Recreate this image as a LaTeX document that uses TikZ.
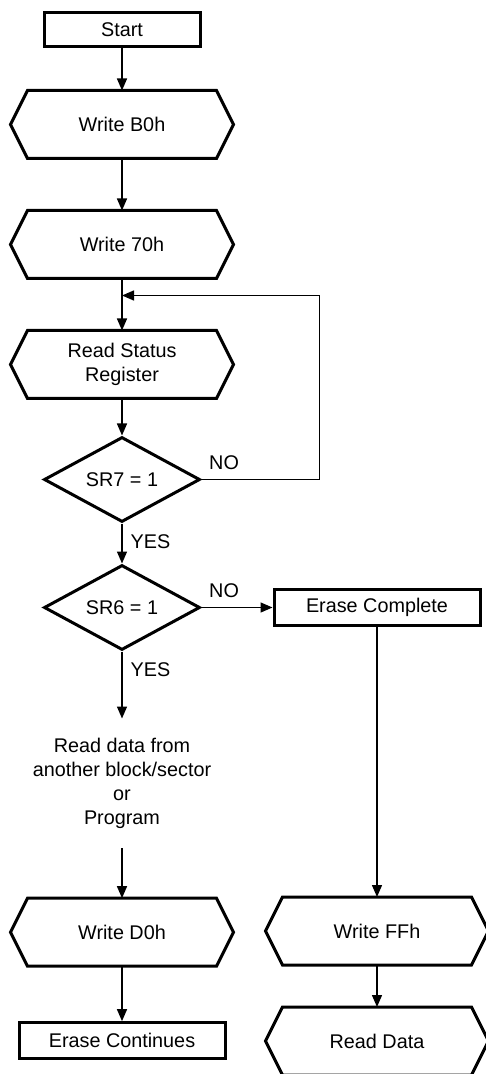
\documentclass[tikz,border=0pt]{standalone}
\usepackage{fontspec}
\setmainfont{Liberation Sans}
\usetikzlibrary{shapes.geometric, arrows.meta, positioning}

\begin{document}
\begin{tikzpicture}[
  node distance=21pt,
  font=\fontsize{9.9}{12}\selectfont,
  flowline/.style={line width=0.7pt, -{Triangle[length=6pt, width=5pt]}},
  termbox/.style={rectangle, draw, line width=1.5pt, minimum width=#1, minimum height=17pt, inner sep=0pt},
  hexbox/.style={rectangle, minimum width=111.5pt, minimum height=34pt, inner sep=0pt, outer sep=0pt},
  hexline/.style={line width=1.5pt, line join=miter},
  testbox/.style={diamond, draw, line width=1.5pt, aspect=1.8, minimum width=78pt, minimum height=42.5pt, inner sep=0pt},
  answer/.style={inner sep=2pt}
]
  \useasboundingbox (0,0) rectangle (243pt,-537pt);

  % Left column
  \node[termbox=78pt] at (61pt,-15pt) (start) {Start};
  \node[hexbox, below=21pt of start] (wb0) {Write B0h};
  \node[hexbox, below=26pt of wb0] (w70) {Write 70h};
  \node[hexbox, below=26pt of w70, align=center] (rsr) {Read Status\\Register};
  \node[testbox, below=18.5pt of rsr] (sr7) {SR7 = 1};
  \node[testbox, below=20pt of sr7] (sr6) {SR6 = 1};
  \node[align=center, inner xsep=0pt, inner ysep=9.6pt, below=33.5pt of sr6] (other) {Read data from\\another block/sector\\or\\Program};
  \node[hexbox, below=25pt of other] (wd0) {Write D0h};
  \node[termbox=103pt, minimum height=18pt, below=27.5pt of wd0] (cont) {Erase Continues};

  % Right column
  \node[termbox=103pt, minimum height=18pt, right=35.5pt of sr6] (done) {Erase Complete};
  \node[hexbox, below=135pt of done] (wff) {Write FFh};
  \node[hexbox, below=21pt of wff] (rd) {Read Data};

  % hexagon outlines
  \foreach \hx in {wb0,w70,rsr,wd0,wff,rd}
    \draw[hexline] (\hx.west) -- ([xshift=8.5pt]\hx.north west) -- ([xshift=-8.5pt]\hx.north east)
      -- (\hx.east) -- ([xshift=-8.5pt]\hx.south east) -- ([xshift=8.5pt]\hx.south west) -- cycle;

  \coordinate[below=8.5pt of w70] (back);

  % Connections
  \draw[flowline] (start) -- (wb0);
  \draw[flowline] (wb0) -- (w70);
  \draw[flowline] (w70) -- (rsr);
  \draw[flowline] (rsr) -- (sr7);
  \draw[flowline] (sr7) -- node[answer, below right=3.4pt and 2pt, pos=0] {YES} (sr6);
  \draw[flowline] (sr7.east) -- node[answer, above right=2.4pt and 1.5pt, pos=0] {NO} ++(59pt,0) |- (back);
  \draw[flowline] (sr6) -- node[answer, below right=3.4pt and 2pt, pos=0] {YES} (other);
  \draw[flowline] (sr6) -- node[answer, above right=2.4pt and 1.5pt, pos=0] {NO} (done);
  \draw[flowline] (other) -- (wd0);
  \draw[flowline] (wd0) -- (cont);
  \draw[flowline] (done) -- (wff);
  \draw[flowline] (wff) -- (rd);
\end{tikzpicture}
\end{document}
